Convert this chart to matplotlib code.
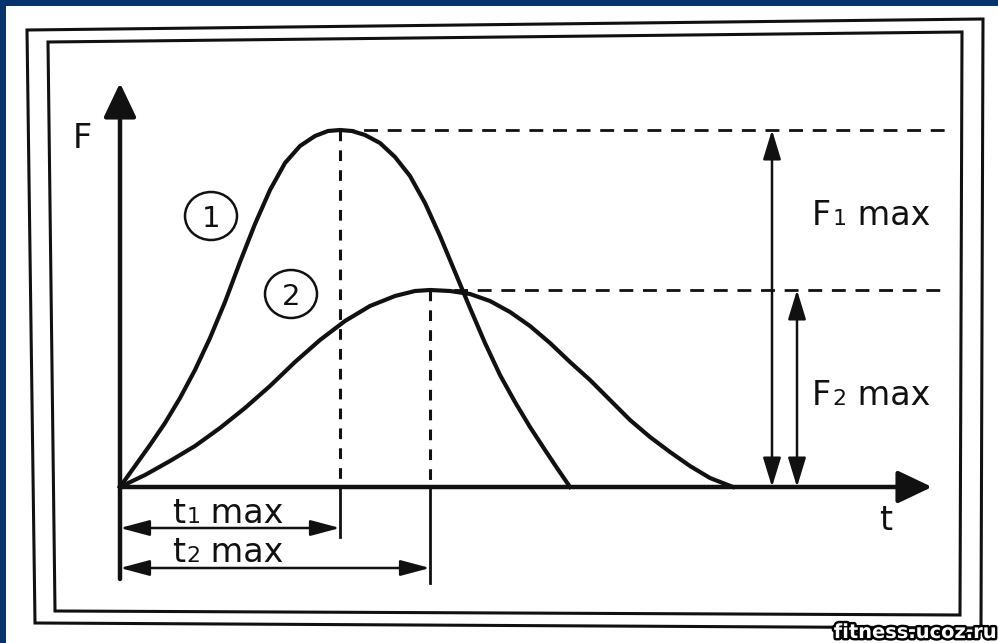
import numpy as np
import matplotlib
matplotlib.use('Agg')
import matplotlib.pyplot as plt
from matplotlib.patches import Rectangle, Polygon, Ellipse
from matplotlib import patheffects

# curve 1 - fast force rise, curve 2 - slow force rise (t, F in arbitrary units)
curve1_t = [0, 0.15, 0.30, 0.45, 0.60, 0.75, 0.90, 1.05, 1.20, 1.35, 1.50, 1.65,
            1.80, 1.95, 2.08, 2.20, 2.32, 2.45, 2.60, 2.75, 2.90, 3.05, 3.20, 3.35,
            3.50, 3.65, 3.80, 3.95, 4.10, 4.25, 4.37, 4.50]
curve1_F = [0, 0.21, 0.42, 0.64, 0.89, 1.17, 1.49, 1.85, 2.25, 2.63, 2.97, 3.24,
            3.41, 3.51, 3.56, 3.57, 3.56, 3.52, 3.44, 3.30, 3.11, 2.84, 2.51, 2.15,
            1.79, 1.44, 1.12, 0.85, 0.60, 0.37, 0.19, 0]
curve2_t = [0, 0.25, 0.50, 0.75, 1.00, 1.25, 1.50, 1.75, 2.00, 2.25, 2.50, 2.75,
            2.95, 3.10, 3.30, 3.50, 3.70, 3.90, 4.10, 4.30, 4.50, 4.70, 4.90, 5.10,
            5.30, 5.50, 5.70, 5.90, 6.13]
curve2_F = [0, 0.12, 0.26, 0.41, 0.59, 0.79, 1.01, 1.25, 1.47, 1.66, 1.81, 1.91,
            1.96, 1.97, 1.96, 1.93, 1.86, 1.75, 1.61, 1.44, 1.25, 1.07, 0.87, 0.67,
            0.50, 0.35, 0.21, 0.09, 0]

curve_labels = ['1', '2']
f_labels = [('F', '1', ' max'), ('F', '2', ' max')]
t_labels = [('t', '1', ' max'), ('t', '2', ' max')]
axis_labels = ['F', 't']
watermark = 'fitness.ucoz.ru'

ink = '#111111'
navy = '#07346c'

fig = plt.figure(figsize=(9.98, 6.43), dpi=100)

# background: pixel space for the frame
bg = fig.add_axes([0, 0, 1, 1])
bg.set_xlim(0, 998)
bg.set_ylim(643, 0)
bg.axis('off')
bg.add_patch(Rectangle((0, 0), 998, 6, color=navy, lw=0))
bg.add_patch(Rectangle((0, 0), 6, 643, color=navy, lw=0))
bg.add_patch(Polygon([(27, 30), (983, 19), (981, 628), (35, 623)], closed=True,
                     fill=False, lw=2.2, ec=ink))
bg.add_patch(Polygon([(48, 42), (962, 32), (960, 615), (55, 611)], closed=True,
                     fill=False, lw=2.2, ec=ink))
bg.text(997, 642, watermark, ha='right', va='bottom', color='white',
        fontweight='bold', fontsize=14,
        path_effects=[patheffects.withStroke(linewidth=3.5, foreground='black')])

# chart
ax = fig.add_axes([0, 0, 1, 1])
ax.set_xlim(-1.2, 8.78)
ax.set_ylim(-1.56, 4.87)
ax.axis('off')

c1t, c1f = np.array(curve1_t), np.array(curve1_F)
c2t, c2f = np.array(curve2_t), np.array(curve2_F)
p1 = np.argmax(c1f)
p2 = np.argmax(c2f)
t1, f1 = c1t[p1], c1f[p1]
t2, f2 = c2t[p2], c2f[p2]

ax.plot(c1t, c1f, color=ink, lw=3, solid_joinstyle='round', zorder=5)
ax.plot(c2t, c2f, color=ink, lw=3, solid_joinstyle='round', zorder=5)

# dashed guides
ax.plot([t1, 8.28], [f1, f1], color=ink, lw=2, dashes=(5, 3.5))
ax.plot([t2, 8.28], [f2, f2], color=ink, lw=2, dashes=(5, 3.5))
ax.plot([t1, t1], [f1, 0], color=ink, lw=2.2, dashes=(3.5, 3))
ax.plot([t2, t2], [f2, 0], color=ink, lw=2.2, dashes=(3.5, 3))
# solid extension lines below the t axis
ax.plot([t1, t1], [0, -0.5], color=ink, lw=2)
ax.plot([t2, t2], [0, -0.96], color=ink, lw=2)


def arrow(start, end, style, scale, lw):
    ax.annotate('', xy=end, xytext=start,
                arrowprops=dict(arrowstyle=style, color=ink, lw=lw,
                                shrinkA=0, shrinkB=0, mutation_scale=scale))


# axes
arrow((0, -0.92), (0, 4.04), '-|>,head_length=1.05,head_width=0.5', 20, 3.2)
arrow((0, 0), (8.12, 0), '-|>,head_length=1.05,head_width=0.5', 20, 3.2)

# dimension arrows
arrow((6.52, 0), (6.52, f1), '<|-|>,head_length=1.8,head_width=0.55', 10, 1.8)
arrow((6.77, 0), (6.77, f2), '<|-|>,head_length=1.8,head_width=0.55', 10, 1.8)
arrow((0, -0.41), (t1, -0.41), '<|-|>,head_length=1.8,head_width=0.48', 10, 1.8)
arrow((0, -0.81), (t2, -0.81), '<|-|>,head_length=1.8,head_width=0.48', 10, 1.8)

FS = 24


def sub_label(x, y, parts, size=FS):
    main, idx, rest = parts
    a = ax.text(x, y, main, fontsize=size, va='baseline', ha='left', color=ink)
    b = ax.annotate(idx, xy=(1, 0), xycoords=a, xytext=(1, 2),
                    textcoords='offset points', fontsize=size * 0.66,
                    va='bottom', ha='left', color=ink)
    ax.annotate(rest, xy=(1, 0), xycoords=(b, a), fontsize=size,
                va='bottom', ha='left', color=ink)


sub_label(6.92, 2.62, f_labels[0])
sub_label(6.92, 0.82, f_labels[1])
sub_label(0.52, -0.36, t_labels[0])
sub_label(0.52, -0.75, t_labels[1])

ax.text(-0.47, 3.39, axis_labels[0], fontsize=FS, va='baseline', ha='left', color=ink)
ax.text(7.66, -0.43, axis_labels[1], fontsize=FS, va='baseline', ha='center', color=ink)

# circled curve numbers
for (cx, cy), lab in zip([(0.91, 2.71), (1.71, 1.93)], curve_labels):
    ax.add_patch(Ellipse((cx, cy), 0.52, 0.48, fill=False, lw=1.8, ec=ink))
    ax.text(cx, cy, lab, fontsize=21, ha='center', va='center_baseline', color=ink)

fig.savefig('out.png', dpi=100)
